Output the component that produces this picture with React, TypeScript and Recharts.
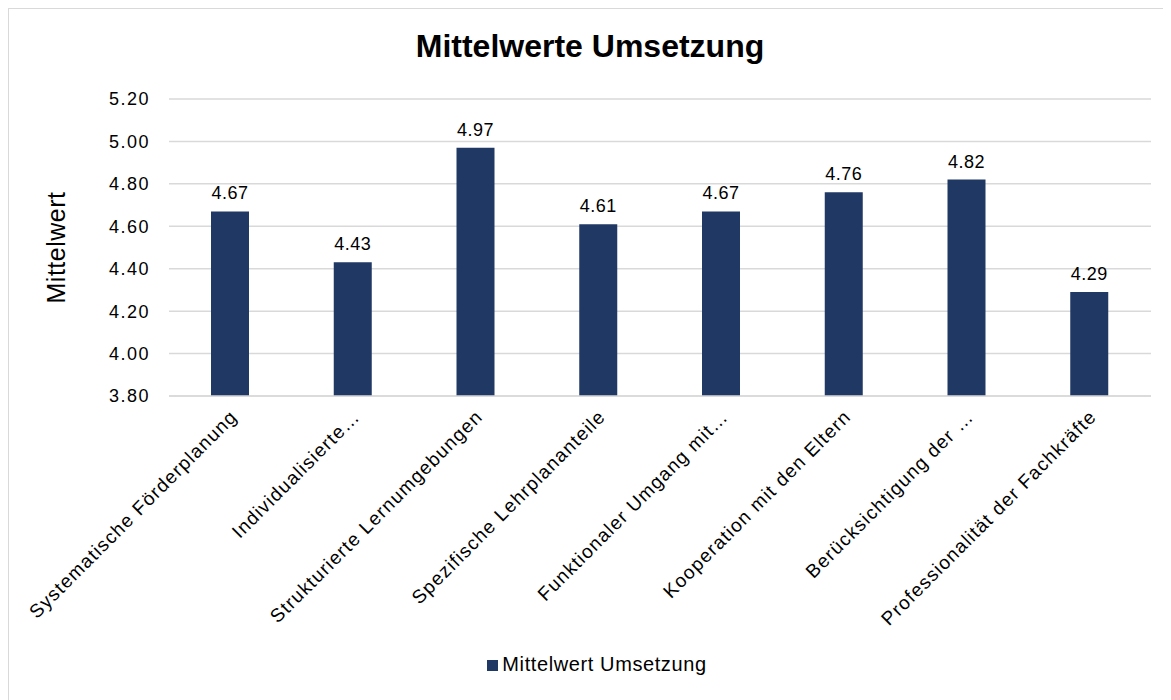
import React from "react";
import {
  BarChart,
  Bar,
  XAxis,
  YAxis,
  CartesianGrid,
  Legend,
  LabelList,
} from "recharts";

const categories = [
  "Systematische Förderplanung",
  "Individualisierte…",
  "Strukturierte Lernumgebungen",
  "Spezifische Lehrplananteile",
  "Funktionaler Umgang mit…",
  "Kooperation mit den Eltern",
  "Berücksichtigung der …",
  "Professionalität der Fachkräfte",
];
const values = [4.67, 4.43, 4.97, 4.61, 4.67, 4.76, 4.82, 4.29];
const yTicks = [3.8, 4.0, 4.2, 4.4, 4.6, 4.8, 5.0, 5.2];

const seriesName = "Mittelwert Umsetzung";
const data = categories.map((c, i) => ({ name: c, value: values[i] }));

const FONT = "'Liberation Sans', Arial, sans-serif";
const BAR_COLOR = "#203864";
const GRID = "#d9d9d9";

const XTick = (props: any) => {
  const { x, y, payload } = props;
  const px = x + 8;
  const py = y + 14;
  return (
    <text
      x={px}
      y={py}
      textAnchor="end"
      fontSize={19}
      letterSpacing={1.2}
      fontFamily={FONT}
      fill="#000"
      transform={`rotate(-45, ${px}, ${py})`}
    >
      {payload.value}
    </text>
  );
};

export default function App() {
  return (
    <div
      style={{
        width: 1163,
        height: 692,
        boxSizing: "border-box",
        borderTop: `1px solid ${GRID}`,
        borderLeft: `1px solid ${GRID}`,
        position: "relative",
        background: "#fff",
        fontFamily: FONT,
      }}
    >
      <div
        style={{
          position: "absolute",
          top: 19,
          left: 0,
          width: 1162,
          textAlign: "center",
          fontSize: 32,
          fontWeight: "bold",
          fontFamily: FONT,
          color: "#000",
        }}
      >
        Mittelwerte Umsetzung
      </div>
      <BarChart
        width={1162}
        height={691}
        data={data}
        margin={{ top: 90, right: 20, bottom: 0, left: 0 }}
      >
        <CartesianGrid vertical={false} stroke={GRID} strokeWidth={1.5} />
        <XAxis
          dataKey="name"
          interval={0}
          height={304}
          tick={<XTick />}
          tickLine={false}
          axisLine={{ stroke: GRID, strokeWidth: 1.5 }}
        />
        <YAxis
          width={160}
          domain={[3.8, 5.2]}
          ticks={yTicks}
          tickFormatter={(v: number) => v.toFixed(2)}
          axisLine={false}
          tickLine={false}
          tickMargin={13}
          tick={{ fontSize: 18, fill: "#000", fontFamily: FONT, letterSpacing: 1.5 }}
          label={{
            value: "Mittelwert",
            angle: -90,
            position: "insideLeft",
            dx: 42,
            style: {
              fontSize: 25,
              fill: "#000",
              fontFamily: FONT,
              textAnchor: "middle",
              letterSpacing: 0.5,
            },
          }}
          allowDataOverflow
        />
        <Legend
          verticalAlign="middle"
          layout="horizontal"
          align="center"
          iconType="square"
          iconSize={11}
          wrapperStyle={{ top: 644, left: 12, width: 1162, fontSize: 20, fontFamily: FONT, letterSpacing: 0.6 }}
          formatter={(v: string) => <span style={{ color: "#000" }}>{v}</span>}
        />
        <Bar
          dataKey="value"
          name={seriesName}
          fill={BAR_COLOR}
          barSize={38}
          isAnimationActive={false}
        >
          <LabelList
            dataKey="value"
            position="top"
            offset={12}
            formatter={(v: number) => v.toFixed(2)}
            style={{ fontSize: 18, fill: "#000", fontFamily: FONT, letterSpacing: 0.5 }}
          />
        </Bar>
      </BarChart>
    </div>
  );
}
